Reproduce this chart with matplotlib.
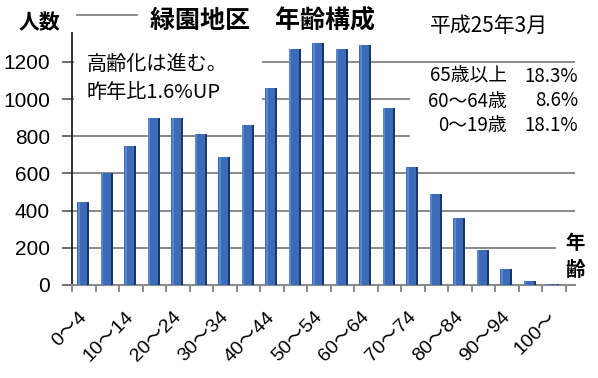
import numpy as np
import matplotlib.pyplot as plt
from matplotlib.patches import Rectangle
from matplotlib.lines import Line2D
from matplotlib.transforms import ScaledTranslation

# データ
age_labels = ["0〜4", "5〜9", "10〜14", "15〜19", "20〜24", "25〜29", "30〜34",
              "35〜39", "40〜44", "45〜49", "50〜54", "55〜59", "60〜64",
              "65〜69", "70〜74", "75〜79", "80〜84", "85〜89", "90〜94",
              "95〜99", "100〜"]
people = [445, 600, 750, 900, 900, 815, 690, 860, 1060, 1270, 1300, 1270,
          1290, 955, 635, 490, 360, 190, 88, 22, 8]
y_ticks = [0, 200, 400, 600, 800, 1000, 1200]
ratio_names = ["65歳以上", "60〜64歳", "0〜19歳"]
ratio_values = ["18.3%", "8.6%", "18.1%"]

JP = ["Noto Sans CJK JP", "DejaVu Sans"]
LAT = ["Liberation Sans", "Noto Sans CJK JP"]

W, H = 598, 378
fig = plt.figure(figsize=(W / 100, H / 100), dpi=100)


def fx(x):
    return x / W


def fy(y):
    return 1 - y / H


ax = fig.add_axes([fx(72), fy(285), (575 - 72) / W, (285 - 33) / H])

x = np.arange(len(people))
front_c = "#3c6cb8"
side_c = "#1c3666"
light_c = "#5a88cf"
ax.bar(x + 0.03, people, width=0.42, color=side_c, zorder=3)
ax.bar(x - 0.06, people, width=0.42, color=front_c, zorder=4)
ax.bar(x - 0.21, people, width=0.08, color=light_c, zorder=5)

ax.set_xlim(-0.5, 20.9)
ax.set_ylim(0, 1356)
ax.set_yticks(y_ticks)
ax.set_yticklabels([str(v) for v in y_ticks], family=LAT, fontsize=15)
ax.yaxis.grid(True, color="#8a8a8a", lw=1.4)
ax.set_axisbelow(True)
ax.tick_params(axis="y", length=7, width=1.2, color="#555555", pad=9)

# x軸：目盛りは区間の境目、ラベルは一つおき
ax.set_xticks(np.arange(-0.5, 21, 1), minor=True)
ax.set_xticks(x[::2])
ax.set_xticklabels(age_labels[::2], family=LAT, fontsize=14,
                   rotation=45, ha="right", rotation_mode="anchor")
ax.tick_params(axis="x", which="major", length=0, pad=17)
ax.tick_params(axis="x", which="minor", length=5, width=1.2, color="#777777")
shift = ScaledTranslation(-4 / 72, 0, fig.dpi_scale_trans)
for lab in ax.get_xticklabels():
    lab.set_transform(lab.get_transform() + shift)

for s in ["top", "right"]:
    ax.spines[s].set_visible(False)
ax.spines["left"].set_color("#222222")
ax.spines["left"].set_linewidth(1.3)
ax.spines["bottom"].set_color("#8a8a8a")
ax.spines["bottom"].set_linewidth(1.5)


# 白い下地（テキストボックス）
def white_box(x0, y0, x1, y1):
    fig.patches.append(Rectangle((fx(x0), fy(y1)), (x1 - x0) / W, (y1 - y0) / H,
                                 transform=fig.transFigure, fc="white",
                                 ec="none", zorder=1))


white_box(74, 40, 262, 108)
white_box(410, 64, 598, 140)
white_box(556, 228, 598, 281)

# タイトルなど
fig.add_artist(Line2D([fx(77), fx(137)], [fy(15), fy(15)], color="#777777", lw=1.2))
fig.text(fx(262), fy(21), "緑園地区　年齢構成", family=JP, fontsize=18,
         fontweight="bold", ha="center", va="center")
fig.text(fx(39), fy(23), "人数", family=JP, fontsize=15, fontweight="bold",
         ha="center", va="center")
fig.text(fx(489), fy(26), "平成25年3月", family=JP, fontsize=15,
         ha="center", va="center")

fig.text(fx(87), fy(64), "高齢化は進む。", family=JP, fontsize=14.5,
         ha="left", va="center", zorder=2)
fig.text(fx(87), fy(92), "昨年比1.6%UP", family=JP, fontsize=14.5,
         ha="left", va="center", zorder=2)

for i, (name, val) in enumerate(zip(ratio_names, ratio_values)):
    yy = 76 + i * 25
    fig.text(fx(507), fy(yy), name, family=JP, fontsize=13.5,
             ha="right", va="center", zorder=2)
    fig.text(fx(578), fy(yy), val, family=JP, fontsize=13.5,
             ha="right", va="center", zorder=2)

fig.text(fx(575), fy(243), "年", family=JP, fontsize=14, fontweight="bold",
         ha="center", va="center", zorder=2)
fig.text(fx(575), fy(270), "齢", family=JP, fontsize=14, fontweight="bold",
         ha="center", va="center", zorder=2)

fig.savefig("out.png", dpi=100)
